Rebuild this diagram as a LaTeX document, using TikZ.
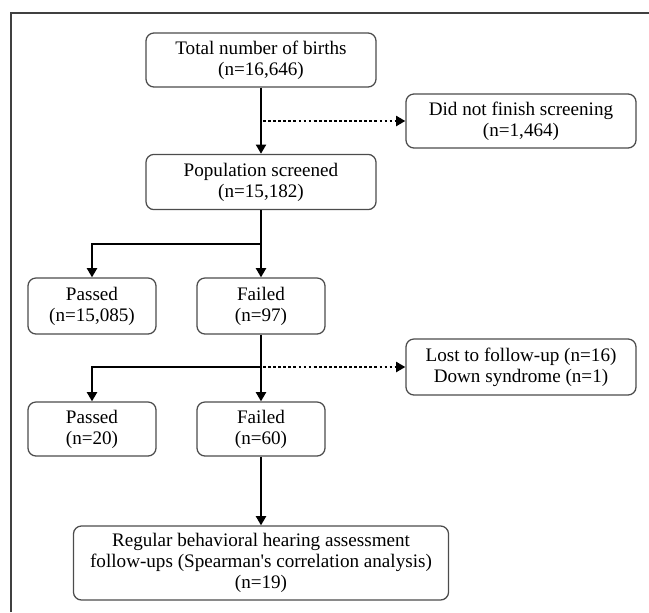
\documentclass[tikz,border=0pt]{standalone}
\usepackage{fontspec}
\setmainfont{Liberation Serif}
\usetikzlibrary{arrows.meta}

\tikzset{
  box/.style={draw=black!70, line width=0.9pt, rounded corners=0.2cm, align=center,
    inner sep=2pt, font=\fontsize{13.6}{15}\selectfont},
  flow/.style={line width=2pt, -{Triangle[length=6.5pt,width=7pt]}},
  skip/.style={line width=2pt, dash pattern=on 2pt off 1.6pt, -{Triangle[length=6.5pt,width=7pt]}}
}

\begin{document}
\begin{tikzpicture}[x=0.025cm, y=-0.025cm]
  \useasboundingbox (0,0) rectangle (649,612);
  % frame
  \draw[line width=1pt, black!75] (11,612) -- (11,13) -- (649,13);

  % boxes
  \node[box, minimum width=5.75cm, minimum height=1.35cm] (births) at (261,60) {Total number of births\\(n=16,646)};
  \node[box, minimum width=5.75cm, minimum height=1.35cm] (notdone) at (521,121) {Did not finish screening\\(n=1,464)};
  \node[box, minimum width=5.75cm, minimum height=1.38cm] (screened) at (261,182) {Population screened\\(n=15,182)};
  \node[box, minimum width=3.2cm, minimum height=1.4cm] (passA) at (92,306) {Passed\\(n=15,085)};
  \node[box, minimum width=3.2cm, minimum height=1.4cm] (failA) at (261,306) {Failed\\(n=97)};
  \node[box, minimum width=5.75cm, minimum height=1.4cm] (lost) at (521,367) {Lost to follow-up (n=16)\\Down syndrome (n=1)};
  \node[box, minimum width=3.2cm, minimum height=1.35cm] (passB) at (92,429) {Passed\\(n=20)};
  \node[box, minimum width=3.2cm, minimum height=1.35cm] (failB) at (261,429) {Failed\\(n=60)};
  \node[box, minimum width=9.375cm, minimum height=1.85cm] (followup) at (261,563) {Regular behavioral hearing assessment\\follow-ups (Spearman\textquotesingle s correlation analysis)\\(n=19)};

  % connectors
  \coordinate (exit1) at ([xshift=1.5pt]births.south |- notdone.west);
  \coordinate (fork1) at (261,244);
  \coordinate (fork2) at (261,367);

  \draw[flow] (births) -- (screened);
  \draw[skip] (exit1) -- (notdone.west);
  \draw[flow] (screened) -- (failA);
  \draw[flow] (fork1) -| (passA);
  \draw[flow] (failA) -- (failB);
  \draw[flow] (fork2) -| (passB);
  \draw[skip] ([xshift=1.5pt]fork2) -- (lost.west);
  \draw[flow] (failB) -- (followup);
\end{tikzpicture}
\end{document}
